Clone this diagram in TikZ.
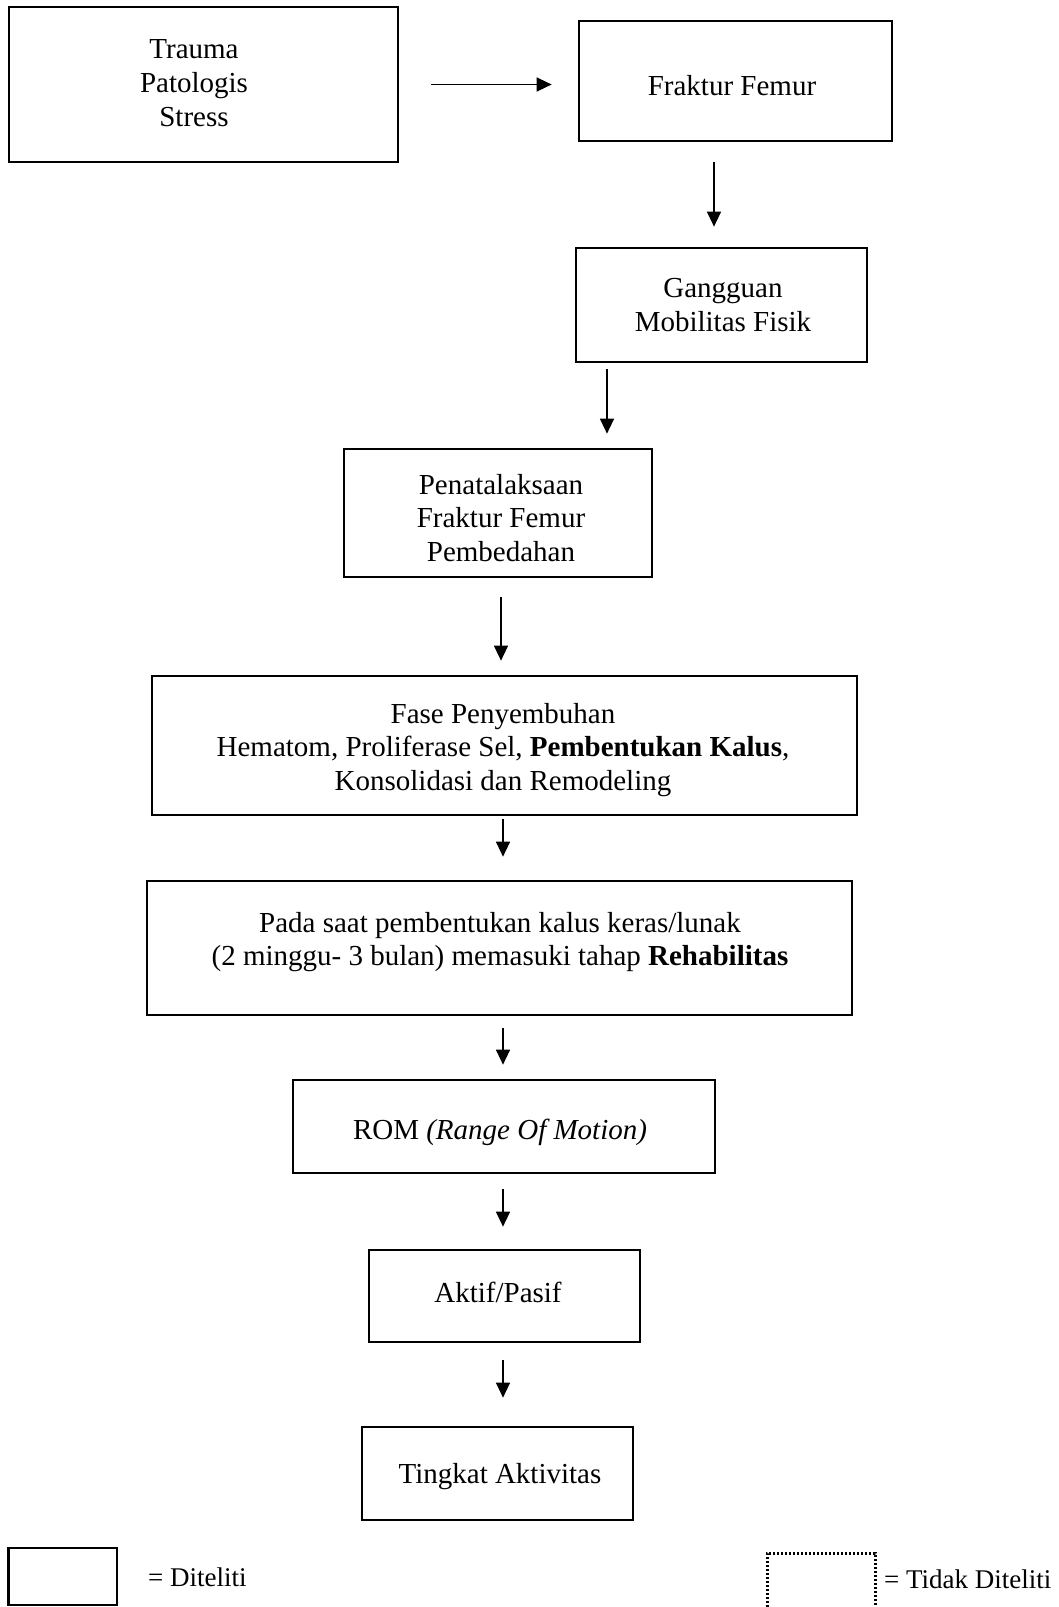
\documentclass[tikz,border=0pt]{standalone}
\usepackage{fontspec}
\setmainfont{Liberation Serif}
\usetikzlibrary{arrows.meta,calc}
\tikzset{
  box/.style={draw, line width=2.7pt, inner sep=0pt},
  dotbox/.style={draw, line width=3pt, dash pattern=on 2.3pt off 1.7pt, inner sep=0pt},
  txt/.style={inner sep=0pt, align=center, font=\fontsize{29}{33.8}\selectfont},
  legtxt/.style={inner sep=0pt, anchor=west, font=\fontsize{27}{31}\selectfont},
  arr/.style={line width=1.4pt, -{Triangle[length=15pt,width=14pt]}}
}
\begin{document}
\begin{tikzpicture}[x=1pt,y=-1pt]
\useasboundingbox (0,0) rectangle (1059,1607);
\clip (0,0) rectangle (1059,1607);
% boxes
\node[box, minimum width=389pt, minimum height=155pt] (trauma) at (203.5,84.5) {};
\node[box, minimum width=313pt, minimum height=120pt] (frak) at (735.5,81) {};
\node[box, minimum width=291pt, minimum height=114pt] (gang) at (721.5,305) {};
\node[box, minimum width=308pt, minimum height=128pt] (pen) at (498,513) {};
\node[box, minimum width=705pt, minimum height=139pt] (fase) at (504.5,745.5) {};
\node[box, minimum width=705pt, minimum height=134pt] (pada) at (499.5,948) {};
\node[box, minimum width=422pt, minimum height=93pt] (rom) at (504,1126.5) {};
\node[box, minimum width=271pt, minimum height=92pt] (aktif) at (504.5,1296) {};
\node[box, minimum width=271pt, minimum height=93pt] (ting) at (497.5,1473.5) {};
% texts
\node[txt] (traumat) at (194,83) {Trauma\\Patologis\\Stress};
\node[txt] (frakt) at (732,86) {Fraktur Femur};
\node[txt] (gangt) at (723,305) {Gangguan\\Mobilitas Fisik};
\node[txt] (pent) at (501,518) {Penatalaksaan\\Fraktur Femur\\Pembedahan};
\node[txt] (faset) at (503,750) {Fase Penyembuhan\\Hematom, Proliferase Sel, \textbf{Pembentukan Kalus},\\Konsolidasi dan Remodeling};
\node[txt] (padat) at (500,942) {Pada saat pembentukan kalus keras/lunak\\(2 minggu- 3 bulan) memasuki tahap \textbf{Rehabilitas}};
\node[txt] (romt) at (500,1132) {ROM \textit{(Range Of Motion)}};
\node[txt] (aktift) at (498,1292) {Aktif/Pasif};
\node[txt] (tingt) at (500,1477) {Tingkat Aktivitas};
% arrow columns
\coordinate (c1) at (714,0);
\coordinate (c2) at (607,0);
\coordinate (c3) at (501,0);
\coordinate (c4) at (503,0);
% arrows
\draw[arr, shorten <=32pt, shorten >=26pt] (trauma.east) -- (trauma.east -| frak.west);
\draw[arr, shorten <=20pt, shorten >=20pt] (frak.south -| c1) -- (gang.north -| c1);
\draw[arr, shorten <=6pt, shorten >=14pt] (gang.south -| c2) -- (pen.north -| c2);
\draw[arr, shorten <=19pt, shorten >=14pt] (pen.south -| c3) -- (fase.north -| c3);
\draw[arr, shorten <=3pt, shorten >=23pt] (fase.south -| c4) -- (pada.north -| c4);
\draw[arr, shorten <=12pt, shorten >=14pt] (pada.south -| c4) -- (rom.north -| c4);
\draw[arr, shorten <=15pt, shorten >=22pt] (rom.south -| c4) -- (aktif.north -| c4);
\draw[arr, shorten <=17pt, shorten >=28pt] (aktif.south -| c4) -- (ting.north -| c4);
% legend
\node[box, minimum width=108.5pt, minimum height=57pt] (legd) at (62.75,1576.5) {};
\node[legtxt] (legdt) at (148,1577) {= Diteliti};
\node[dotbox, minimum width=108pt, minimum height=64pt] (legn) at (821,1585) {};
\node[legtxt] (legnt) at (884,1579) {= Tidak Diteliti};
\end{tikzpicture}
\end{document}
